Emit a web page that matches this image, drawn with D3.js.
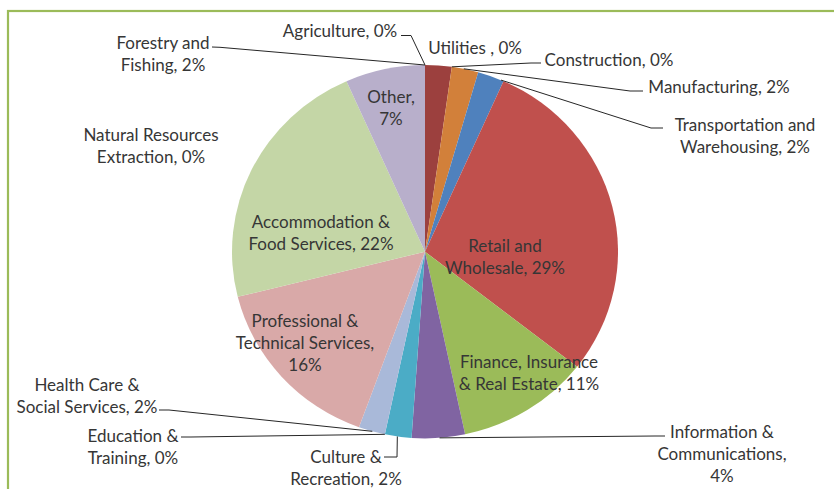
<!DOCTYPE html>
<html>
<head>
<meta charset="utf-8">
<script src="https://cdn.jsdelivr.net/npm/d3@7"></script>
<style>
  body { margin: 0; background: #fff; }
  svg text { font-family: Lato, "Open Sans", sans-serif; font-size: 17px; fill: #363636; }
</style>
</head>
<body>
<div id="chart"></div>
<script>
// sectors, clockwise from 12 o'clock (counts of firms)
const sectors = [
  "Agriculture", "Forestry and Fishing", "Utilities", "Construction", "Manufacturing",
  "Transportation and Warehousing", "Retail and Wholesale", "Finance, Insurance & Real Estate",
  "Information & Communications", "Culture & Recreation", "Education & Training",
  "Health Care & Social Services", "Professional & Technical Services",
  "Natural Resources Extraction", "Accommodation & Food Services", "Other"
];
const counts = [0, 1, 0, 0, 1, 1, 13, 5, 2, 1, 0, 1, 7, 0, 10, 3];

// label text per sector, {p} gets the percentage
const labelLines = [
  ["Agriculture, {p}"],
  ["Forestry and", "Fishing, {p}"],
  ["Utilities , {p}"],
  ["Construction, {p}"],
  ["Manufacturing, {p}"],
  ["Transportation and", "Warehousing, {p}"],
  ["Retail and", "Wholesale, {p}"],
  ["Finance, Insurance", "& Real Estate, {p}"],
  ["Information &", "Communications,", "{p}"],
  ["Culture &", "Recreation, {p}"],
  ["Education &", "Training, {p}"],
  ["Health Care &", "Social Services, {p}"],
  ["Professional &", "Technical Services,", "{p}"],
  ["Natural Resources", "Extraction, {p}"],
  ["Accommodation &", "Food Services, {p}"],
  ["Other,", "{p}"]
];

const colors = ["#9c403e", "#9c403e", "#d2803a", "#d2803a", "#d2803a", "#4f81bd", "#c0504d", "#9bbb59",
  "#8064a2", "#4bacc6", "#a9b9d9", "#a9b9d9", "#d9a9a8", "#c4d6a6", "#c4d6a6", "#b8afcb"];

// layout: label centre (first line) and leader line (start, elbow, attach fraction in slice)
const labelPos = [
  [340, 31], [163, 43], [475, 48], [609, 60], [719, 87], [745, 125], [505, 246], [529, 362],
  [722, 432], [346, 457], [133, 436], [87, 385], [305, 321], [151, 135], [321, 222], [391, 97]
];
const leaders = [
  { from: [401, 35.5], elbow: [411, 35.5], t: 0 },
  { from: [212, 47], elbow: [220, 47.3], t: 0 },
  null,
  { from: [541, 63], elbow: [531, 63], t: 0 },
  { from: [643, 91], elbow: [630, 91], t: 0.45 },
  { from: [663, 128], elbow: [651, 128], t: 0.9 },
  null, null,
  { from: [665, 436], elbow: [655, 436], t: 0.48 },
  { from: [384, 457], elbow: [397, 457], t: 0.53 },
  { from: [181, 437], elbow: [191, 437], t: 0 },
  { from: [159, 410], elbow: [169, 410], t: 0.48 },
  null, null, null, null
];

const W = 834, H = 489;
const cx = 425, cy = 251.7, rx = 193, ry = 186.7;

const svg = d3.select("#chart").append("svg")
  .attr("width", W)
  .attr("height", H);

// frame
svg.append("rect")
  .attr("x", 8).attr("y", 11)
  .attr("width", W + 20).attr("height", H + 20)
  .attr("fill", "none")
  .attr("stroke", "#9bbb59")
  .attr("stroke-width", 2.2);

const total = d3.sum(counts);
const pct = d3.format(".0%");
const pie = d3.pie().sort(null).value(d => d);
const arcs = pie(counts);
const arc = d3.arc().innerRadius(0).outerRadius(rx);

svg.append("g")
  .attr("transform", `translate(${cx},${cy}) scale(1,${ry / rx})`)
  .selectAll("path")
  .data(arcs)
  .enter()
  .append("path")
  .attr("d", arc)
  .attr("fill", (d, i) => colors[i]);

// leader lines
const edgePoint = (d, t) => {
  const a = d.startAngle + t * (d.endAngle - d.startAngle);
  return [cx + rx * Math.sin(a), cy - ry * Math.cos(a)];
};

svg.append("g")
  .selectAll("polyline")
  .data(arcs.map((d, i) => ({ d, l: leaders[i] })).filter(o => o.l))
  .enter()
  .append("polyline")
  .attr("points", o => [o.l.from, o.l.elbow, edgePoint(o.d, o.l.t)].map(p => p.join(",")).join(" "))
  .attr("fill", "none")
  .attr("stroke", "#262626")
  .attr("stroke-width", 1);

// labels
const lineH = 22;
const labels = svg.append("g")
  .selectAll("text")
  .data(arcs)
  .enter()
  .append("text")
  .attr("text-anchor", "middle")
  .attr("x", (d, i) => labelPos[i][0])
  .attr("y", (d, i) => labelPos[i][1] + 6);

labels.each(function (d, i) {
  const p = pct(d.data / total);
  labelLines[i].forEach((line, j) => {
    d3.select(this).append("tspan")
      .attr("x", labelPos[i][0])
      .attr("dy", j === 0 ? 0 : lineH)
      .text(line.replace("{p}", p));
  });
});
</script>
</body>
</html>
